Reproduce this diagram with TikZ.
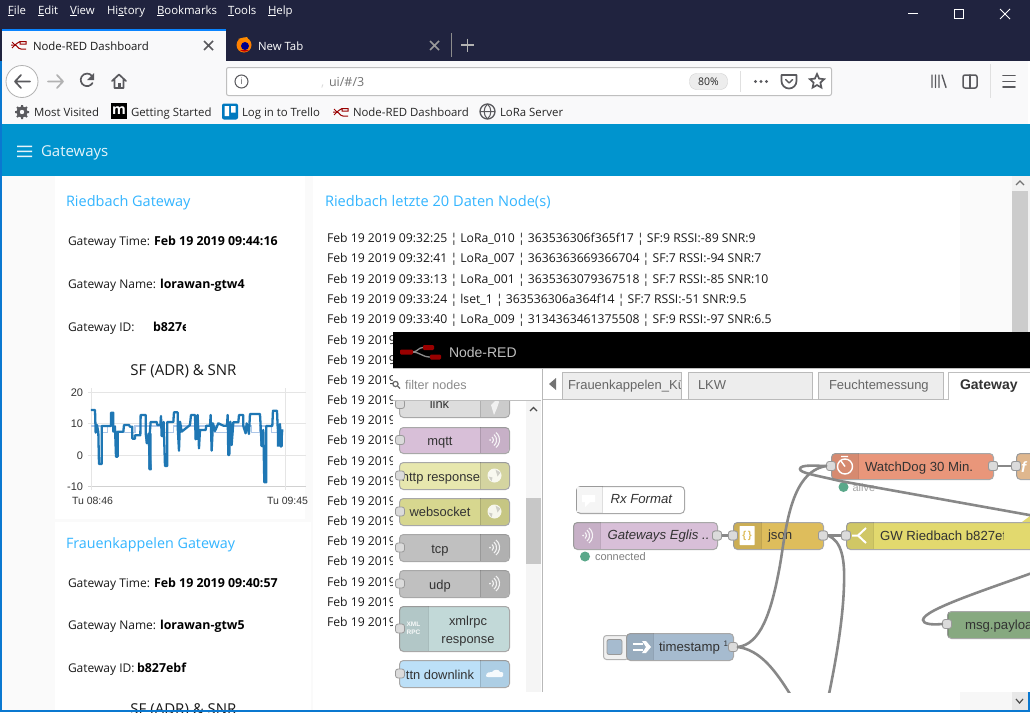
\documentclass[tikz,border=0pt]{standalone}
\usepackage{fontspec}
\setmainfont{Open Sans}
\newfontfamily\nrfont{Liberation Sans}
\usetikzlibrary{shapes.geometric}
\definecolor{chrome}{HTML}{20233F}
\definecolor{tbar}{HTML}{F9F9FA}
\definecolor{hdr}{HTML}{0094CE}
\definecolor{ttl}{HTML}{33B5FF}
\definecolor{page}{HTML}{FAFAFA}
\definecolor{ico}{HTML}{5A5A5E}
\definecolor{wire}{HTML}{888888}
\definecolor{nodeline}{HTML}{A8A8A8}
\definecolor{winblue}{HTML}{0A78D0}
\definecolor{ffblue}{HTML}{0A84FF}
\definecolor{cmqtt}{HTML}{D8BFD8}
\definecolor{chttp}{HTML}{E7E7AE}
\definecolor{cws}{HTML}{D7D78F}
\definecolor{ctcp}{HTML}{C0C0C0}
\definecolor{clink}{HTML}{DDDDDD}
\definecolor{cxml}{HTML}{C2D9D8}
\definecolor{cttn}{HTML}{BCE0F8}
\definecolor{cjson}{HTML}{DEBD5C}
\definecolor{cgw}{HTML}{E2D96E}
\definecolor{cwd}{HTML}{E9967A}
\definecolor{cfn}{HTML}{F3C79B}
\definecolor{cts}{HTML}{A6BBCF}
\definecolor{cmp}{HTML}{87A980}
\definecolor{cdark}{HTML}{1F77B4}
\definecolor{clight}{HTML}{AEC7E8}
\definecolor{cstat}{HTML}{5AA88A}
\definecolor{ctrello}{HTML}{0079BF}
\newcommand{\fs}[1]{\fontsize{#1}{#1}\selectfont}
\tikzset{
 x=1pt,y=-1pt,
 lab/.style={anchor=base west,inner sep=0pt,outer sep=0pt},
 labr/.style={anchor=base east,inner sep=0pt,outer sep=0pt},
 labc/.style={anchor=base,inner sep=0pt,outer sep=0pt},
 ui/.style={lab,font=\fs{12},text=black!90},
 uib/.style={lab,font=\bfseries\fs{12.4},text=black},
 menu/.style={lab,font=\fs{11.4},text=white},
 bm/.style={lab,font=\fs{11.4},text=black!85},
 cardtitle/.style={lab,font=\fs{14.5},text=ttl},
 logline/.style={lab,font=\fs{12.2},text=black!90},
 nrtext/.style={font=\nrfont\fs{13.2},text=black!80},
 paltext/.style={labc,font=\nrfont\fs{12.9},text=black!80},
 tabtext/.style={lab,font=\nrfont\fs{13},text=black!60},
 flowwire/.style={draw=wire,line width=2.6pt,line cap=round},
 port/.style={rectangle,rounded corners=2.5pt,minimum size=9pt,inner sep=0pt,draw=black!40,fill=black!14,line width=.8pt},
 iconline/.style={draw=ico,line width=1.7pt,line cap=round,line join=round},
 tabbox/.style={draw=black!27,fill=black!7,line width=1pt},
}
% \nrnode{name}{x1}{y1}{x2}{y2}{fill}{icon x1}{icon x2}
\newcommand{\nrnode}[8]{%
 \node[rectangle,rounded corners=4pt,draw=nodeline,line width=1pt,fill=#6,inner sep=0pt,
   minimum width=#4pt-#2pt,minimum height=#5pt-#3pt,anchor=north west] (#1) at (#2,#3) {};
 \begin{scope}
  \clip[rounded corners=4pt] (#2,#3) rectangle (#4,#5);
  \fill[black,fill opacity=.08] (#7,#3) rectangle (#8,#5);
  \draw[black,opacity=.13,line width=.8pt] (#8,#3) -- (#8,#5);
  \ifdim #7pt>#2pt \draw[black,opacity=.13,line width=.8pt] (#7,#3) -- (#7,#5);\fi
 \end{scope}}
\newcommand{\wifi}[2]{%
 \begin{scope}[shift={(#1,#2)}]
  \fill[white,opacity=.85] (-3,0) circle (1);
  \draw[white,opacity=.85,line width=1.1pt] (-1,-3) arc (-50:50:3.9);
  \draw[white,opacity=.85,line width=1.1pt] (1,-5.5) arc (-50:50:7.2);
  \draw[white,opacity=.85,line width=1.1pt] (3,-7.5) arc (-50:50:9.8);
 \end{scope}}
\newcommand{\globe}[2]{%
 \fill[white,opacity=.85] (#1,#2) circle (7);
 \fill[black,opacity=.16] (#1+1,#2-6) -- (#1+6,#2-3) -- (#1+3,#2+1) -- cycle;
 \fill[black,opacity=.16] (#1-6,#2+1) -- (#1-2,#2+2) -- (#1-3,#2+6) -- cycle;}
\newcommand{\nrlogo}[4]{% x y scale color
 \begin{scope}[shift={(#1,#2)},scale=#3]
  \draw[black!45,line width=1.3pt] (12,7) .. controls (18,7) and (18,2.5) .. (23,2.5);
  \draw[black!45,line width=1.3pt] (12,7) .. controls (20,7) and (22,12) .. (30,12);
  \fill[#4,rounded corners=1.2pt] (0,4.5) rectangle (13,9.5);
  \fill[#4,rounded corners=1.2pt] (23,0) rectangle (34,5);
  \fill[#4,rounded corners=1.2pt] (30,9.5) rectangle (41,14.5);
 \end{scope}}
\newcommand{\nrlogosmall}[2]{%
 \begin{scope}[shift={(#1,#2)}]
  \draw[red!60!black,line width=1pt] (0,5) -- (4,5) .. controls (6,5) and (6,1.5) .. (9,1.5) -- (15,1.5) -- (15,4) -- (9,4) -- (9,1.5);
  \draw[red!60!black,line width=1pt] (4,5) .. controls (6,5) and (7,9) .. (10,9) -- (15,9);
  \draw[red!60!black,line width=1pt] (1,2) -- (4,5) -- (1,8);
 \end{scope}}
\begin{document}
\begin{tikzpicture}
\useasboundingbox (0,0) rectangle (1030,712);
% ---------- browser chrome
\fill[chrome] (0,0) rectangle (1030,61);
\node[menu] (mFile) at (8,14) {\underline{F}ile};
\node[menu] (mEdit) at (38,14) {\underline{E}dit};
\node[menu] (mView) at (70,14) {\underline{V}iew};
\node[menu] (mHist) at (107,14) {Hi\underline{s}tory};
\node[menu] (mBook) at (157,14) {\underline{B}ookmarks};
\node[menu] (mTools) at (228,14) {\underline{T}ools};
\node[menu] (mHelp) at (268,14) {\underline{H}elp};
\draw[white,line width=1pt] (908,13.5) -- (918,13.5);
\draw[white,line width=1pt] (954.5,9.5) rectangle (963.5,18.5);
\draw[white,line width=.8pt] (1000,9) -- (1010,19) (1000,19) -- (1010,9);
% tabs
\fill[tbar] (2,29) rectangle (226,61);
\fill[ffblue] (2,29) rectangle (226,31);
\nrlogosmall{11}{40}
\node[bm,text=black!90] (tab1) at (33,50) {Node-RED Dashboard};
\draw[ico,line width=1.5pt] (204,41) -- (213,50) (204,50) -- (213,41);
\fill[orange] (244,45) circle (7.5);
\fill[red!75!black] (240,50) arc (130:50:7) -- cycle;
\fill[blue!55!black] (245,46) circle (4);
\fill[orange!90!yellow] (238,39) -- (247,37) -- (250,43) -- (244,41) -- cycle;
\node[bm,text=white] (tab2) at (258,50) {New Tab};
\draw[black!40,line width=1.5pt] (430,41) -- (439,50) (430,50) -- (439,41);
\draw[black!45,line width=1pt] (451,33) -- (451,57);
\draw[black!30,line width=1.6pt] (461,45) -- (474,45) (467.5,38.5) -- (467.5,51.5);
% toolbar
\fill[tbar] (2,61) rectangle (1028,124);
\node[circle,draw=black!30,fill=white,minimum size=32pt,inner sep=0pt,line width=.8pt] (backbtn) at (22,81.5) {};
\draw[iconline] (30,81.5) -- (15,81.5) (21,75) -- (15,81.5) -- (21,88);
\draw[iconline,draw=black!30] (48,81.5) -- (63,81.5) (57,75) -- (63,81.5) -- (57,88);
\draw[iconline] (92.5,83) arc (30:320:6.3);
\fill[ico] (94,73) -- (94,80) -- (87,80) -- cycle;
\draw[iconline] (112,81) -- (119,74.5) -- (126,81) (114.5,79) -- (114.5,88) -- (123.5,88) -- (123.5,79);
\fill[ico] (117.5,83) rectangle (120.5,88);
\node[rectangle,rounded corners=2pt,draw=black!25,fill=white,line width=1pt,minimum width=605pt,minimum height=28pt,inner sep=0pt,anchor=north west] (urlbar) at (226,67) {};
\node[circle,draw=ico,line width=1pt,minimum size=13pt,inner sep=0pt,font=\fs{9},text=ico] (info) at (241.5,81.5) {i};
\node[lab,font=\fs{13},text=black!14] (urlc) at (321,86) {,};
\node[lab,font=\fs{12.5},text=black!55] (url) at (329,86) {ui/\#/3};
\node[rectangle,rounded corners=7pt,draw=black!18,fill=black!7,minimum width=38pt,minimum height=16pt,inner sep=0pt,font=\fs{10.5},text=black!85] (zoompill) at (708.5,81.5) {80\%};
\draw[black!12,line width=1pt] (740,71) -- (740,92);
\fill[ico] (755.5,81.5) circle (1.7) (761,81.5) circle (1.7) (766.5,81.5) circle (1.7);
\draw[iconline] (781.5,75) -- (796.5,75) -- (796.5,81) arc (0:180:7.5) -- cycle;
\draw[iconline,line width=1.4pt] (785.5,79.5) -- (789,83) -- (792.5,79.5);
\node[star,star points=5,star point ratio=2.1,draw=ico,line width=1.7pt,minimum size=15pt,inner sep=0pt] (starbtn) at (817,81.5) {};
\draw[iconline,line width=1.4pt] (932,75) -- (932,87.5) (935.5,75) -- (935.5,87.5) (939,75) -- (939,87.5) (942,75) -- (946,87.5);
\draw[iconline,rounded corners=2pt,line width=1.5pt] (963,75) rectangle (977,88);
\draw[iconline,line width=1.5pt] (970,75) -- (970,88);
\draw[black!12,line width=1pt] (990,64) -- (990,98);
\draw[iconline,line width=1.6pt] (1003,75.5) -- (1015,75.5) (1003,81.5) -- (1015,81.5) (1003,87) -- (1015,87);
% bookmarks
\node[circle,draw=ico,line width=2.4pt,minimum size=9pt,inner sep=0pt] (gear) at (22,112) {};
\draw[ico,line width=2pt] (22,105) -- (22,119) (15,112) -- (29,112) (17,107) -- (27,117) (17,117) -- (27,107);
\fill[tbar] (22,112) circle (2.2);
\node[bm] (b1) at (34,116) {Most Visited};
\node[rectangle,fill=black,text=white,minimum size=16pt,inner sep=0pt,font=\bfseries\fs{14}] (mbox) at (119,111) {m};
\node[bm] (b2) at (131,116) {Getting Started};
\node[rectangle,rounded corners=2pt,fill=ctrello,minimum size=16pt,inner sep=0pt] (trello) at (230,111.5) {};
\fill[white] (224.5,106) rectangle (229,116) (231,106) rectangle (235.5,112.5);
\node[bm] (b3) at (242,116) {Log in to Trello};
\nrlogosmall{333}{107}
\node[bm] (b4) at (353,116) {Node-RED Dashboard};
\node[circle,draw=ico,line width=1.3pt,minimum size=15pt,inner sep=0pt] (globebtn) at (487.5,111.5) {};
\draw[ico,line width=1pt] (480,111.5) -- (495,111.5) (487.5,104) .. controls (483,108) and (483,115) .. (487.5,119) (487.5,104) .. controls (492,108) and (492,115) .. (487.5,119);
\node[bm] (b5) at (500,116) {LoRa Server};
% ---------- dashboard
\fill[hdr] (2,124) rectangle (1030,176);
\fill[white,opacity=.9] (17,145.5) rectangle (32,147) (17,150.5) rectangle (32,152) (17,155.5) rectangle (32,157);
\node[lab,font=\fs{15},text=white!90!hdr] (hdrtitle) at (41,156) {Gateways};
\fill[page] (2,176) rectangle (1012,712);
\fill[white] (55,176) rectangle (305,519);
\fill[white] (55,522) rectangle (311,712);
\fill[white] (313,176) rectangle (960,712);
\fill[black!5] (1012,176) rectangle (1030,332);
\fill[black!20] (1012,191) rectangle (1028,332);
\draw[black!55,line width=1.2pt] (1016,185) -- (1020,181) -- (1024,185);
\node[cardtitle] (t1) at (66,206) {Riedbach Gateway};
\node[ui] (g1a) at (68,245) {Gateway Time:};
\node[uib] (g1b) at (154,245) {Feb 19 2019 09:44:16};
\node[ui] (g2a) at (68,288) {Gateway Name:};
\node[uib] (g2b) at (160,288) {lorawan-gtw4};
\node[ui] (g3a) at (68,331) {Gateway ID:};
\begin{scope}
 \clip (150,318) rectangle (185,336);
 \node[uib] (g3b) at (153,331) {b827ebf};
\end{scope}
\node[labc,font=\fs{15},text=black!90] (chartT) at (183.5,375) {SF (ADR) \& SNR};
% chart
\draw[black!10,line width=1pt] (88,392) -- (306,392) (88,423) -- (306,423) (88,455) -- (306,455);
\draw[black!18,line width=1pt] (88,486) -- (306,486);
\draw[black!10,line width=1pt] (91,388) -- (91,490) (285.5,388) -- (285.5,490);
\node[labr,font=\nrfont\fs{11},text=black!80] (y20) at (83,396) {20};
\node[labr,font=\nrfont\fs{11},text=black!80] (y10) at (83,427) {10};
\node[labr,font=\nrfont\fs{11},text=black!80] (y0) at (83,459) {0};
\node[labr,font=\nrfont\fs{11},text=black!80] (ym10) at (83,490) {-10};
\node[lab,font=\nrfont\fs{10.5},text=black!80] (xa) at (72,504) {Tu 08:46};
\node[lab,font=\nrfont\fs{10.5},text=black!80] (xb) at (267,504) {Tu 09:45};
\begin{scope}[shift={(55,360)},x=.3333pt,y=-.3333pt]
 \draw[clight,line width=1.4pt] (108,198) -- (140,198) -- (140,218) -- (158,218) -- (158,198) -- (180,198) -- (180,218) -- (240,218) -- (240,198) -- (320,198) -- (320,218) -- (355,218) -- (355,198) -- (480,198) -- (480,218) -- (535,218) -- (535,198) -- (590,198) -- (590,218) -- (615,218) -- (615,198) -- (650,198) -- (650,218) -- (670,218);
 \fill[cdark] (272,220) rectangle (278,250) (280,220) rectangle (290,328) (420,195) rectangle (430,240) (520,190) rectangle (533,255) (616,210) rectangle (625,258) (666,210) rectangle (684,260);
 \draw[cdark,line width=2.3pt,line join=round] (108,150) -- (120,150) -- (122,218) -- (126,195) -- (130,218) -- (132,312) -- (140,312) -- (140,198) -- (168,198) -- (168,158) -- (175,158) -- (175,215) -- (180,200) -- (183,290) -- (188,290) -- (188,215) -- (205,215) -- (207,195) -- (222,195) -- (225,200) -- (232,200) -- (232,236) -- (240,236) -- (240,226) -- (256,226) -- (257,165) -- (272,165) -- (272,220) -- (276,250) -- (282,220) -- (284,328) -- (287,328) -- (282,250) -- (287,186) -- (305,186) -- (307,195) -- (316,195) -- (318,168) -- (320,228) -- (326,228) -- (326,186) -- (330,318) -- (337,318) -- (337,186) -- (355,186) -- (357,157) -- (368,157) -- (368,198) -- (372,272) -- (375,185) -- (380,215) -- (405,195) -- (408,165) -- (420,165) -- (422,238) -- (428,165) -- (432,265) -- (435,210) -- (452,210) -- (454,197) -- (465,197) -- (467,165) -- (470,272) -- (474,190) -- (480,213) -- (490,190) -- (505,197) -- (516,197) -- (518,165) -- (520,285) -- (523,285) -- (526,185) -- (530,255) -- (535,187) -- (550,187) -- (552,165) -- (565,165) -- (565,198) -- (572,220) -- (575,190) -- (582,222) -- (585,162) -- (615,162) -- (617,198) -- (620,258) -- (625,210) -- (628,367) -- (634,367) -- (634,198) -- (652,198) -- (654,152) -- (666,152) -- (668,198) -- (672,248) -- (675,192) -- (678,260) -- (682,208);
\end{scope}
\node[cardtitle,font=\fs{14.3}] (t2) at (66,548) {Frauenkappelen Gateway};
\node[ui] (g4a) at (68,587) {Gateway Time:};
\node[uib] (g4b) at (154,587) {Feb 19 2019 09:40:57};
\node[ui] (g5a) at (68,629) {Gateway Name:};
\node[uib] (g5b) at (160,629) {lorawan-gtw5};
\node[ui] (g6a) at (68,672) {Gateway ID:};
\node[uib] (g6b) at (137,672) {b827ebf};
\node[labc,font=\fs{15},text=black!90] (chart2T) at (183.5,714) {SF (ADR) \& SNR};
\node[cardtitle,font=\fs{14.6}] (t3) at (325,206) {Riedbach letzte 20 Daten Node(s)};
\node[logline] (l1) at (327,242) {Feb 19 2019 09:32:25 ¦ LoRa\_010 ¦ 363536306f365f17 ¦ SF:9 RSSI:-89 SNR:9};
\node[logline] (l2) at (327,262) {Feb 19 2019 09:32:41 ¦ LoRa\_007 ¦ 3636363669366704 ¦ SF:7 RSSI:-94 SNR:7};
\node[logline] (l3) at (327,283) {Feb 19 2019 09:33:13 ¦ LoRa\_001 ¦ 3635363079367518 ¦ SF:7 RSSI:-85 SNR:10};
\node[logline] (l4) at (327,303) {Feb 19 2019 09:33:24 ¦ lset\_1 ¦ 363536306a364f14 ¦ SF:7 RSSI:-51 SNR:9.5};
\node[logline] (l5) at (327,323) {Feb 19 2019 09:33:40 ¦ LoRa\_009 ¦ 3134363461375508 ¦ SF:9 RSSI:-97 SNR:6.5};
\foreach \yy [count=\i from 6] in {344,364,384,404,424,444,465,485,505,525,545,565,586,606,626}{
 \node[logline] (l\i) at (327,\yy) {Feb 19 2019};
}
% ---------- Node-RED window
\fill[white] (393,332) rectangle (1030,692);
\fill[black] (393,332) rectangle (1030,368);
\nrlogo{400}{345}{1}{red!60!black}
\node[lab,font=\nrfont\fs{14},text=black!25] (nrtitle) at (449,357) {Node-RED};
% palette
\nrnode{plink}{399}{388}{509}{417}{clink}{480}{509}
\nrnode{pmqtt}{399}{427}{509}{453}{cmqtt}{480}{509}
\nrnode{phttp}{399}{462}{509}{489}{chttp}{480}{509}
\nrnode{pws}{399}{498}{509}{525}{cws}{480}{509}
\nrnode{ptcp}{399}{534}{509}{561}{ctcp}{480}{509}
\nrnode{pudp}{399}{570}{509}{597}{ctcp}{480}{509}
\nrnode{pxml}{399}{606}{509}{651}{cxml}{399}{428}
\nrnode{pttn}{399}{660}{509}{687}{cttn}{480}{509}
\fill[white,opacity=.75] (491,405) -- (497,399) -- (499,402) -- (497,408) -- (494,415) -- cycle;
\wifi{493}{440}
\globe{494.5}{475.5}
\globe{494.5}{511.5}
\wifi{493}{547.5}
\wifi{493}{583.5}
\node[inner sep=0pt,align=center,text=white,font=\nrfont\bfseries\fs{6.5},opacity=.9] (xmlico) at (413.5,628.5) {XML\\[1pt]RPC};
\fill[white,opacity=.9] (486,676) .. controls (486,672) and (490,672) .. (492,672) .. controls (494,669) and (499,669) .. (500,672) .. controls (504,671) and (504,676) .. (502,677) -- (488,677) .. controls (486,677) and (486,676) .. (486,676) -- cycle;
\node[paltext] (ptl) at (439.5,408) {link};
\node[paltext] (ptm) at (440,445) {mqtt};
\node[paltext] (pth) at (441,481) {http response};
\node[paltext] (ptw) at (440,516) {websocket};
\node[paltext] (ptt) at (440,553) {tcp};
\node[paltext] (ptu) at (440,589) {udp};
\node[paltext] (ptx) at (468,625) {xmlrpc};
\node[paltext] (ptr) at (468,643) {response};
\node[paltext] (ptd) at (440,679) {ttn downlink};
\foreach \yy/\nm in {404/a,440/b,475.5/c,511.5/d,547.5/e,583.5/f,628.5/g,673.5/h}{
 \node[port] (pp\nm) at (400,\yy) {};
}
% filter bar
\fill[white] (393,369) rectangle (541,400);
\draw[black!25,line width=1pt] (393,368.5) -- (1030,368.5) (393,400) -- (541,400);
\draw[black!60,line width=1.2pt] (395.5,384) circle (2.6) (397.5,386) -- (400,388.5);
\node[lab,font=\nrfont\fs{12.6},text=black!45] (filter) at (405,389) {filter nodes};
% palette scrollbar
\fill[black!4] (526,401) rectangle (541,692);
\fill[black!22] (526,498) rectangle (541,564);
\draw[black!70,line width=1.2pt] (530,411) -- (533.5,407.5) -- (537,411);
\draw[black!28,line width=1pt] (542.5,369) -- (542.5,692);
% tabs of the workspace
\fill[black!55] (556,378) -- (556,390) -- (549,384) -- cycle;
\draw[black!25,line width=1pt] (543,399.5) -- (948,399.5);
\node[rectangle,tabbox,minimum width=119pt,minimum height=27pt,inner sep=0pt,anchor=north west] (tab1r) at (561.5,372) {};
\begin{scope}
 \clip (562,373) rectangle (680,399);
 \node[tabtext] (tt1) at (568,389) {Frauenkappelen\_Küche};
\end{scope}
\node[rectangle,tabbox,minimum width=124pt,minimum height=27pt,inner sep=0pt,anchor=north west] (tab2r) at (687.5,372) {};
\node[tabtext] (tt2) at (698,389) {LKW};
\node[rectangle,tabbox,minimum width=125pt,minimum height=27pt,inner sep=0pt,anchor=north west] (tab3r) at (817.5,372) {};
\node[tabtext] (tt3) at (829,389) {Feuchtemessung};
\draw[black!25,line width=1pt,fill=white] (948.5,400) -- (948.5,372.5) -- (1031,372.5) -- (1031,400);
\node[lab,font=\nrfont\bfseries\fs{14},text=black!80] (tt4) at (960,389) {Gateway};
% flow nodes
\nrnode{rx}{576}{486}{684}{513}{white}{576}{602}
\nrnode{gwe}{573}{522}{717}{549}{cmqtt}{573}{600}
\nrnode{json}{733}{522}{823}{549}{cjson}{733}{761}
\nrnode{gwr}{846}{522}{1040}{549}{cgw}{846}{873}
\fill[cgw] (1022,522) -- (1030,516) -- (1030,522) -- cycle;
\nrnode{wd}{831}{453}{993}{479}{cwd}{831}{858}
\nrnode{fn}{1016}{453}{1040}{479}{cfn}{1016}{1040}
\nrnode{mp}{947}{611}{1040}{638}{cmp}{947}{948}
% timestamp button
\node[rectangle,rounded corners=3pt,draw=black!30,fill=black!6,line width=1pt,minimum width=25pt,minimum height=24pt,inner sep=0pt,anchor=north west] (tsbtn) at (603,635) {};
\nrnode{ts}{626}{633}{733}{660}{cts}{626}{653}
\node[rectangle,rounded corners=2pt,draw=black!40,fill=cts,line width=.8pt,minimum size=15pt,inner sep=0pt] (tsinner) at (614.5,647) {};
% icons in flow nodes
\fill[black!4] (577,487) rectangle (602,512);
\fill[white] (582,495) rectangle (595,502) (585,502) -- (585,507) -- (590,502) -- cycle;
\wifi{586}{535.5}
\node[rectangle,rounded corners=.5pt,fill=white,minimum width=15pt,minimum height=19pt,inner sep=0pt,font=\nrfont\bfseries\fs{10},text=cjson] (jsonico) at (747,535.5) {\{\,\}};
\draw[white,line width=2pt] (852,535.5) -- (858,535.5) (858,535.5) -- (866,528) (858,535.5) -- (866,543);
\node[circle,draw=white,line width=1.4pt,minimum size=15pt,inner sep=0pt] (wdico) at (845,466.5) {};
\draw[white,line width=1.4pt] (845,466.5) -- (841,461) (841,456.5) -- (848,456.5);
\fill[white] (642,641) -- (646,641) -- (651,647) -- (646,653) -- (642,653) -- (646,647) -- cycle;
\draw[white,line width=1.6pt] (633,644) -- (643,644) (633,650) -- (643,650);
\node[lab,font=\nrfont\bfseries\itshape\fs{15},text=white] (fnico) at (1021,472) {f};
% flow labels
\node[lab,nrtext,font=\nrfont\itshape\fs{13.2}] (rxt) at (610.5,503) {Rx Format};
\node[lab,nrtext,font=\nrfont\itshape\fs{13.2}] (gwet) at (607.5,539.5) {Gateways Eglis ..};
\node[lab,nrtext] (jsont) at (768,539.5) {json};
\begin{scope}
 \clip (875,522) rectangle (1003,549);
 \node[lab,nrtext] (gwrt) at (880,540) {GW Riedbach b827ef};
\end{scope}
\node[lab,nrtext] (wdt) at (865,471) {WatchDog 30 Min.};
\node[lab,nrtext] (tst) at (659,651) {timestamp \raisebox{4.5pt}{\fs{8}1}};
\node[lab,nrtext] (mpt) at (965,629) {msg.payload};
% status
\node[circle,fill=cstat,minimum size=10pt,inner sep=0pt] (dot1) at (585,556.5) {};
\node[lab,font=\nrfont\fs{11},text=black!50] (st1) at (595,560) {connected};
\node[circle,fill=cstat,minimum size=10pt,inner sep=0pt] (dot2) at (843.5,487) {};
\node[lab,font=\nrfont\fs{11},text=black!35] (st2) at (852.5,491) {alive};
% ports
\node[port] (gwe-out) at (717,535.5) {};
\node[port] (json-in) at (733,535.5) {};
\node[port] (json-out) at (823,535.5) {};
\node[port] (gwr-in) at (846,535.5) {};
\node[port] (wd-in) at (831,466) {};
\node[port] (wd-out) at (993,466) {};
\node[port] (fn-in) at (1016,466) {};
\node[port] (ts-out) at (733,647) {};
\node[port] (mp-in) at (947,624) {};
% wires
\coordinate (offA) at (1032,515.5);
\coordinate (offB) at (790,694);
\coordinate (offC) at (829,694);
\coordinate (offD) at (1032,573);
\begin{scope}
 \clip (543,400) rectangle (1030,692);
 \draw[flowwire] (gwe-out) -- (json-in);
 \draw[flowwire] (json-out) -- (gwr-in);
 \draw[flowwire] (wd-out) -- (fn-in);
 \draw[flowwire] (wd-in.west) .. controls (818,466) and (800,464) .. (800,469) .. controls (800,473) and (815,475) .. (840,481) -- (offA);
 \draw[flowwire] (ts-out.east) .. controls (760,644) and (771,615) .. (780,565) .. controls (786,530) and (790,472) .. (wd-in.west);
 \draw[flowwire] (ts-out.east) .. controls (760,650) and (775,670) .. (offB);
 \draw[flowwire] (json-out.east) .. controls (842,541) and (845,560) .. (844,585) .. controls (843,620) and (836,660) .. (offC);
 \draw[flowwire] (mp-in.west) .. controls (932,625) and (923,624) .. (923,620) .. controls (923,610) and (985,590) .. (offD);
\end{scope}
% redraw ports over the wire ends
\node[port] (gwe-outb) at (717,535.5) {};
\node[port] (json-inb) at (733,535.5) {};
\node[port] (json-outb) at (823,535.5) {};
\node[port] (gwr-inb) at (846,535.5) {};
\node[port] (wd-outb) at (993,466) {};
\node[port] (fn-inb) at (1016,466) {};
% bottom strip and borders
\fill[black!3] (960,692) rectangle (1012,710);
\fill[black!9] (1012,692) rectangle (1028,710);
\draw[black!70,line width=1.2pt] (1016,699) -- (1019.5,703) -- (1023,699);
\fill[winblue] (0,710) rectangle (1030,712);
\fill[winblue] (1028,692) rectangle (1030,712);
\fill[winblue] (0,61) rectangle (2,712);
\end{tikzpicture}
\end{document}
